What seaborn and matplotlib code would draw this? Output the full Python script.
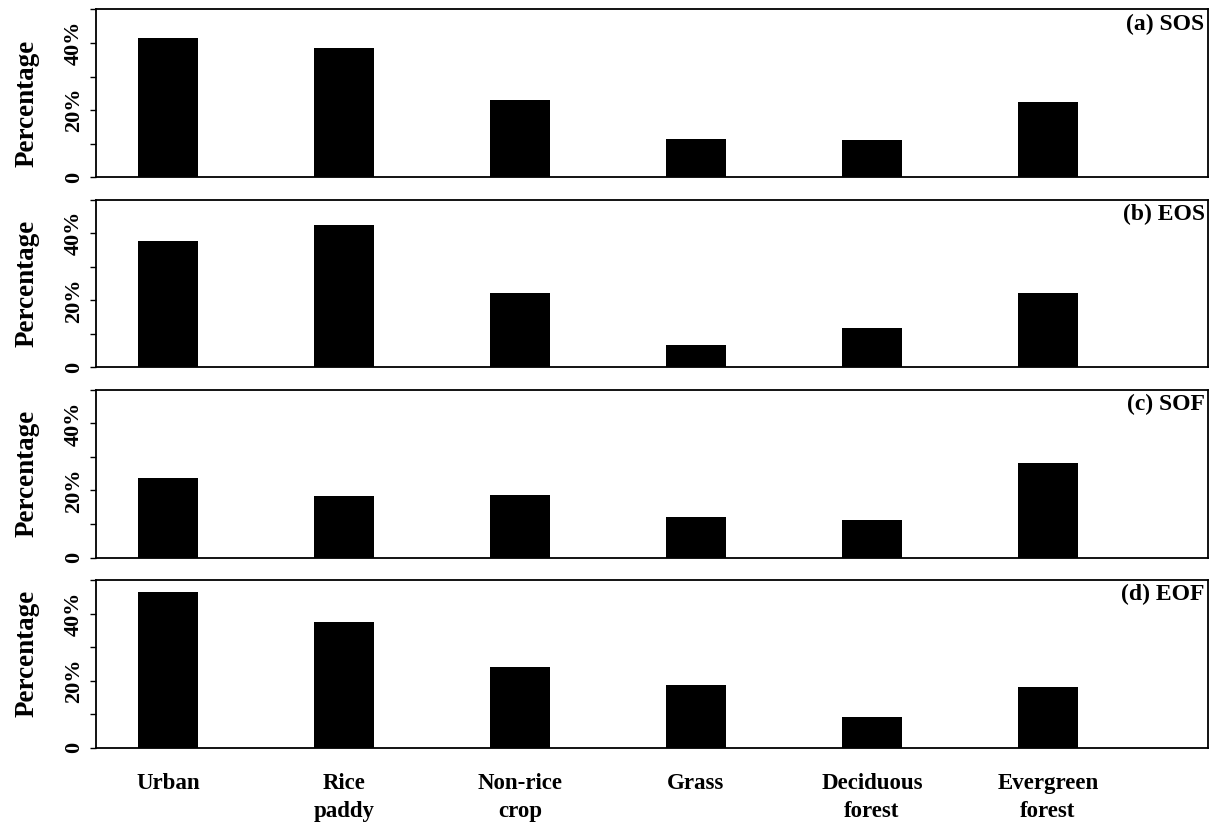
import matplotlib
matplotlib.use("Agg")
import matplotlib.pyplot as plt
import seaborn as sns
import pandas as pd
from matplotlib.ticker import FixedLocator, FuncFormatter

# Land-cover classes along the x axis
categories = ["Urban", "Rice\npaddy", "Non-rice\ncrop", "Grass",
              "Deciduous\nforest", "Evergreen\nforest"]

# Percentage of pixels per land-cover class for each phenology metric
sos = [41.6, 38.5, 22.9, 11.5, 11.0, 22.3]
eos = [37.6, 42.3, 22.1, 6.8, 11.8, 22.3]
sof = [23.6, 18.2, 18.5, 12.2, 11.3, 28.1]
eof = [46.3, 37.6, 24.2, 18.8, 9.1, 18.0]

panel_titles = ["(a) SOS", "(b) EOS", "(c) SOF", "(d) EOF"]
series = [sos, eos, sof, eof]

major_ticks = [0, 20, 40]
minor_ticks = [10, 30, 50]

sns.set_theme(style="white")
plt.rcParams["font.family"] = ["Liberation Serif", "DejaVu Serif"]
plt.rcParams["font.weight"] = "bold"
for key in ("text.color", "axes.labelcolor", "xtick.color", "ytick.color",
            "axes.edgecolor"):
    plt.rcParams[key] = "black"

fig, axes = plt.subplots(4, 1, figsize=(12.23, 8.25), dpi=100)
fig.subplots_adjust(left=0.0785, right=0.9877, top=0.9885, bottom=0.0937,
                    hspace=0.134)

ylabel_pos = [0.443, 0.5, 0.5, 0.565]


def pct(v, _pos):
    return "0" if v == 0 else f"{v:.0f}%"


for i, (ax, vals, title) in enumerate(zip(axes, series, panel_titles)):
    df = pd.DataFrame({"cls": categories, "pct": vals})
    sns.barplot(data=df, x="cls", y="pct", color="black", saturation=1,
                width=0.34, edgecolor="black", linewidth=0, ax=ax)
    ax.set_ylim(0, 50)
    ax.set_xlim(-0.41, 5.91)
    ax.yaxis.set_major_locator(FixedLocator(major_ticks))
    ax.yaxis.set_minor_locator(FixedLocator(minor_ticks))
    ax.yaxis.set_major_formatter(FuncFormatter(pct))
    ax.tick_params(axis="y", which="both", left=True, direction="out",
                   length=4.5, width=1.0, color="black")
    ax.tick_params(axis="y", which="major", labelsize=16, pad=4,
                   labelrotation=90, labelcolor="black")
    for lab in ax.get_yticklabels():
        lab.set_fontweight("bold")
        lab.set_va("center")
    ax.tick_params(axis="x", length=0, pad=18, labelsize=16.5,
                   labelcolor="black")
    if i < 3:
        ax.tick_params(axis="x", labelbottom=False)
    else:
        for lab in ax.get_xticklabels():
            lab.set_fontweight("bold")
            lab.set_linespacing(1.45)
    ax.set_xlabel("")
    ax.set_ylabel("Percentage", fontsize=19.5, fontweight="bold",
                  va="center", color="black")
    ax.yaxis.set_label_coords(-0.062, ylabel_pos[i])
    for sp in ax.spines.values():
        sp.set_visible(True)
        sp.set_color("black")
        sp.set_linewidth(1.3)
    ax.text(0.997, 0.975, title, transform=ax.transAxes, ha="right",
            va="top", fontsize=17, fontweight="bold", color="black")

fig.savefig("out.png", dpi=100, facecolor="white")
